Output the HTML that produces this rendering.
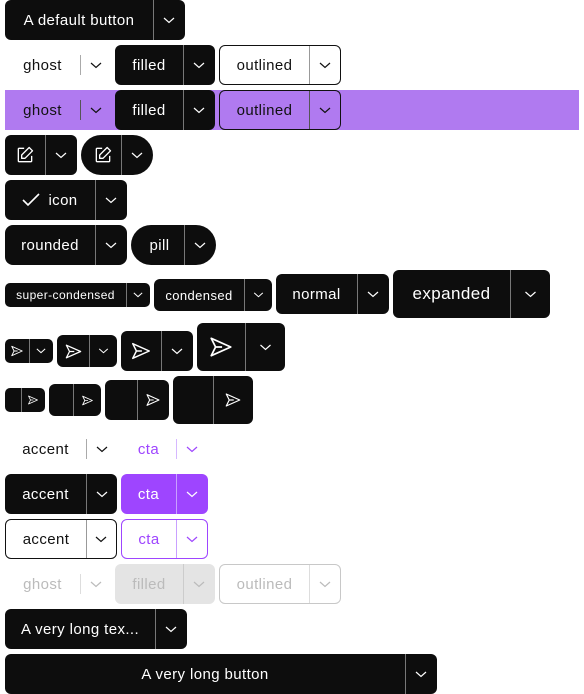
<!DOCTYPE html>
<html><head><meta charset="utf-8"><style>
*{box-sizing:border-box;margin:0;padding:0}
body{width:584px;height:694px;background:#fff;position:relative;overflow:hidden;font-family:"Liberation Sans",sans-serif;}
.b{position:absolute;display:flex;border-radius:6px;font-size:15px;font-weight:500;letter-spacing:0.4px;overflow:hidden}
.b>span{display:flex;align-items:center;justify-content:center;height:100%;position:relative}
.b .c::before{content:"";position:absolute;left:0;top:0;bottom:0;width:1px;background:var(--d)}
.f{background:#0d0d0d;color:#fff;--d:#777}
.o{background:transparent;color:#111;border:1px solid #111;--d:#999}
.g{color:#111;--d:#aaa}
.g .c::before{top:10px;bottom:10px}
.cta-f{background:#9e45ff;color:#fff;--d:#c9a0ff}
.cta-o{color:#9e45ff;border:1px solid #9e45ff;--d:#c9a0ff}
.cta-g{color:#9e45ff;--d:#d6b8ff}
.dg{color:#bbb;--d:#ddd}
.df{background:#e4e4e4;color:#bbb;--d:#ccc}
.do{color:#bbb;border:1px solid #c8c8c8;--d:#ddd}
svg{display:block}
</style></head><body>
<svg width="0" height="0" style="position:absolute"><defs>
<symbol id="ch" viewBox="0 0 12 7"><polyline points="1,1 6,5.5 11,1" fill="none" stroke="currentColor" stroke-width="1.2"/></symbol>
<symbol id="sd" viewBox="0 0 24 24"><path d="M3 4 L21 12 L3 20 L7 12 Z M7 12 H13" fill="none" stroke="currentColor" stroke-width="1.6" stroke-linejoin="round"/></symbol>
<symbol id="ed" viewBox="0 0 24 24"><path d="M11 4H5a1 1 0 0 0-1 1v14a1 1 0 0 0 1 1h14a1 1 0 0 0 1-1v-6 M17 3l4 4-9 9H8v-4z" fill="none" stroke="currentColor" stroke-width="1.6" stroke-linejoin="round"/></symbol>
</defs></svg>

<div style="position:absolute;left:5px;top:90px;width:574px;height:40px;background:#b07af0"></div>

<div class="b f" style="left:5px;top:0;width:180px;height:40px"><span style="width:148px">A default button</span><span class="c" style="width:32px"><svg width="12" height="7"><use href="#ch"/></svg></span></div>

<div class="b g" style="left:5px;top:45px;width:100px;height:40px"><span style="width:75px">ghost</span><span class="c" style="width:25px;justify-content:flex-start;padding-left:10px"><svg width="12" height="7"><use href="#ch"/></svg></span></div>
<div class="b f" style="left:115px;top:45px;width:100px;height:40px"><span style="width:68px">filled</span><span class="c" style="width:32px"><svg width="12" height="7"><use href="#ch"/></svg></span></div>
<div class="b o" style="left:219px;top:45px;width:122px;height:40px"><span style="width:89px">outlined</span><span class="c" style="width:31px"><svg width="12" height="7"><use href="#ch"/></svg></span></div>

<div class="b g" style="left:5px;top:90px;width:100px;height:40px;--d:#555"><span style="width:75px">ghost</span><span class="c" style="width:25px;justify-content:flex-start;padding-left:10px"><svg width="12" height="7"><use href="#ch"/></svg></span></div>
<div class="b f" style="left:115px;top:90px;width:100px;height:40px"><span style="width:68px">filled</span><span class="c" style="width:32px"><svg width="12" height="7"><use href="#ch"/></svg></span></div>
<div class="b o" style="left:219px;top:90px;width:122px;height:40px;--d:#555"><span style="width:89px">outlined</span><span class="c" style="width:31px"><svg width="12" height="7"><use href="#ch"/></svg></span></div>

<div class="b f" style="left:5px;top:135px;width:72px;height:40px"><span style="width:40px"><svg width="20" height="20"><use href="#ed"/></svg></span><span class="c" style="width:32px"><svg width="12" height="7"><use href="#ch"/></svg></span></div>
<div class="b f" style="left:81px;top:135px;width:72px;height:40px;border-radius:20px"><span style="width:40px;padding-left:4px"><svg width="20" height="20"><use href="#ed"/></svg></span><span class="c" style="width:32px"><svg width="12" height="7"><use href="#ch"/></svg></span></div>

<div class="b f" style="left:5px;top:180px;width:122px;height:40px"><span style="width:90px;gap:8px"><svg width="18" height="14" viewBox="0 0 18 14"><polyline points="1,7 6,12 17,1" fill="none" stroke="#fff" stroke-width="1.6"/></svg>icon</span><span class="c" style="width:32px"><svg width="12" height="7"><use href="#ch"/></svg></span></div>

<div class="b f" style="left:5px;top:225px;width:122px;height:40px;border-radius:8px"><span style="width:90px">rounded</span><span class="c" style="width:32px"><svg width="12" height="7"><use href="#ch"/></svg></span></div>
<div class="b f" style="left:131px;top:225px;width:85px;height:40px;border-radius:20px"><span style="width:53px;padding-left:4px">pill</span><span class="c" style="width:32px"><svg width="12" height="7"><use href="#ch"/></svg></span></div>

<div class="b f" style="left:5px;top:283px;width:145px;height:24px;font-size:12px;border-radius:5px"><span style="width:121px">super-condensed</span><span class="c" style="width:24px"><svg width="10" height="6"><use href="#ch"/></svg></span></div>
<div class="b f" style="left:154px;top:279px;width:118px;height:32px;font-size:13px"><span style="width:90px">condensed</span><span class="c" style="width:28px"><svg width="11" height="6"><use href="#ch"/></svg></span></div>
<div class="b f" style="left:276px;top:274px;width:113px;height:40px"><span style="width:81px">normal</span><span class="c" style="width:32px"><svg width="12" height="7"><use href="#ch"/></svg></span></div>
<div class="b f" style="left:393px;top:270px;width:157px;height:48px;font-size:17px"><span style="width:117px">expanded</span><span class="c" style="width:40px"><svg width="13" height="7"><use href="#ch"/></svg></span></div>

<div class="b f" style="left:5px;top:339px;width:48px;height:24px;border-radius:5px"><span style="width:24px"><svg width="14" height="14"><use href="#sd"/></svg></span><span class="c" style="width:24px"><svg width="10" height="6"><use href="#ch"/></svg></span></div>
<div class="b f" style="left:57px;top:335px;width:60px;height:32px"><span style="width:32px"><svg width="19" height="19"><use href="#sd"/></svg></span><span class="c" style="width:28px"><svg width="11" height="6"><use href="#ch"/></svg></span></div>
<div class="b f" style="left:121px;top:331px;width:72px;height:40px"><span style="width:40px"><svg width="22" height="22"><use href="#sd"/></svg></span><span class="c" style="width:32px"><svg width="12" height="7"><use href="#ch"/></svg></span></div>
<div class="b f" style="left:197px;top:323px;width:88px;height:48px"><span style="width:48px"><svg width="26" height="26"><use href="#sd"/></svg></span><span class="c" style="width:40px"><svg width="13" height="7"><use href="#ch"/></svg></span></div>

<div class="b f" style="left:5px;top:388px;width:40px;height:24px;border-radius:5px"><span style="width:16px"></span><span class="c" style="width:24px"><svg width="12" height="12"><use href="#sd"/></svg></span></div>
<div class="b f" style="left:49px;top:384px;width:52px;height:32px"><span style="width:24px"></span><span class="c" style="width:28px"><svg width="13" height="13"><use href="#sd"/></svg></span></div>
<div class="b f" style="left:105px;top:380px;width:64px;height:40px"><span style="width:32px"></span><span class="c" style="width:32px"><svg width="16" height="16"><use href="#sd"/></svg></span></div>
<div class="b f" style="left:173px;top:376px;width:80px;height:48px"><span style="width:40px"></span><span class="c" style="width:40px"><svg width="18" height="18"><use href="#sd"/></svg></span></div>

<div class="b g" style="left:5px;top:429px;width:112px;height:40px"><span style="width:81px">accent</span><span class="c" style="width:31px"><svg width="12" height="7"><use href="#ch"/></svg></span></div>
<div class="b g cta-g" style="left:121px;top:429px;width:87px;height:40px"><span style="width:55px">cta</span><span class="c" style="width:32px"><svg width="12" height="7"><use href="#ch"/></svg></span></div>

<div class="b f" style="left:5px;top:474px;width:112px;height:40px"><span style="width:81px">accent</span><span class="c" style="width:31px"><svg width="12" height="7"><use href="#ch"/></svg></span></div>
<div class="b cta-f" style="left:121px;top:474px;width:87px;height:40px"><span style="width:55px">cta</span><span class="c" style="width:32px"><svg width="12" height="7"><use href="#ch"/></svg></span></div>

<div class="b o" style="left:5px;top:519px;width:112px;height:40px"><span style="width:80px">accent</span><span class="c" style="width:30px"><svg width="12" height="7"><use href="#ch"/></svg></span></div>
<div class="b cta-o" style="left:121px;top:519px;width:87px;height:40px"><span style="width:54px">cta</span><span class="c" style="width:31px"><svg width="12" height="7"><use href="#ch"/></svg></span></div>

<div class="b g dg" style="left:5px;top:564px;width:100px;height:40px"><span style="width:75px">ghost</span><span class="c" style="width:25px;justify-content:flex-start;padding-left:10px"><svg width="12" height="7"><use href="#ch"/></svg></span></div>
<div class="b df" style="left:115px;top:564px;width:100px;height:40px"><span style="width:68px">filled</span><span class="c" style="width:32px"><svg width="12" height="7"><use href="#ch"/></svg></span></div>
<div class="b do" style="left:219px;top:564px;width:122px;height:40px"><span style="width:89px">outlined</span><span class="c" style="width:31px"><svg width="12" height="7"><use href="#ch"/></svg></span></div>

<div class="b f" style="left:5px;top:609px;width:182px;height:40px"><span style="width:150px">A very long tex...</span><span class="c" style="width:32px"><svg width="12" height="7"><use href="#ch"/></svg></span></div>
<div class="b f" style="left:5px;top:654px;width:432px;height:40px"><span style="width:400px">A very long button</span><span class="c" style="width:32px"><svg width="12" height="7"><use href="#ch"/></svg></span></div>
</body></html>
